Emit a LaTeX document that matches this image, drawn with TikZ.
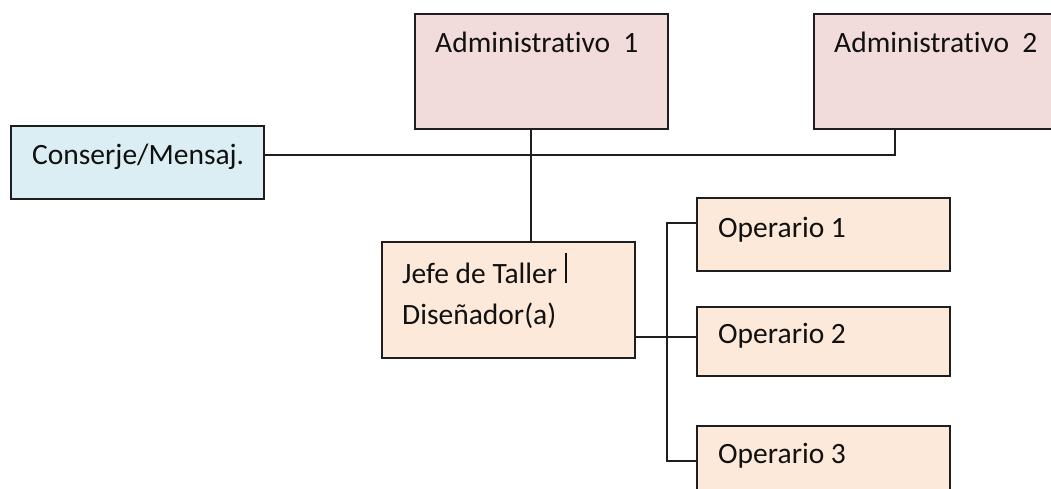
\documentclass[tikz,border=0pt]{standalone}
\usepackage{fontspec}
\setmainfont{Carlito}[Ligatures=NoCommon]
\definecolor{pinkc}{HTML}{F2DCDB}
\definecolor{bluec}{HTML}{DAEEF3}
\definecolor{peachc}{HTML}{FDE9D9}
\definecolor{txtc}{HTML}{111111}
\definecolor{linec}{HTML}{1E1E1E}
\begin{document}
\begin{tikzpicture}[x=1pt,y=-1pt,
  box/.style={draw=linec,line width=1.6pt,rectangle,inner sep=0pt,anchor=north west},
  lbl/.style={anchor=base west,inner sep=0pt,text=txtc,font=\fontsize{29.5}{35}\selectfont},
  conn/.style={draw=linec,line width=1.6pt}]
\useasboundingbox (0,0) rectangle (1051,489);
\clip (0,0) rectangle (1051,489);
% boxes
\node[box,fill=pinkc,minimum width=253pt,minimum height=115pt] (a1) at (414,13) {};
\node[box,fill=pinkc,minimum width=260pt,minimum height=115pt] (a2) at (813,13) {};
\node[box,fill=bluec,minimum width=253pt,minimum height=73pt] (cons) at (10,125) {};
\node[box,fill=peachc,minimum width=253pt,minimum height=116pt] (jefe) at (381,241) {};
\node[box,fill=peachc,minimum width=253pt,minimum height=73pt] (o1) at (696,197) {};
\node[box,fill=peachc,minimum width=253pt,minimum height=69pt] (o2) at (696,306) {};
\node[box,fill=peachc,minimum width=253pt,minimum height=80pt] (o3) at (696,425) {};
% labels
\node[lbl] (a1t) at (435,53) {Administrativo\hspace{0.45em}1};
\node[lbl] (a2t) at (834,53) {Administrativo\hspace{0.45em}2};
\node[lbl] (const) at (32,165) {Conserje/Mensaj.};
\node[lbl] (jefet1) at (402,283) {Jefe de Taller};
\node[lbl] (jefet2) at (402,324) {Diseñador(a)};
\node[lbl] (o1t) at (718,237) {Operario 1};
\node[lbl] (o2t) at (718,343) {Operario 2};
\node[lbl] (o3t) at (718,463) {Operario 3};
% text cursor
\draw[draw=txtc,line width=1.3pt] (566,253) -- (566,283);
% connectors
\coordinate (v1) at (531,0);
\coordinate (v2) at (895,155);
\coordinate (b1) at (667,223);
\coordinate (b2) at (667,337);
\coordinate (b3) at (667,461);
\draw[conn] (a1.south -| v1) -- (jefe.north -| v1);
\draw[conn] (a2.south -| v2) -- (v2) -- (cons.east |- v2);
\draw[conn] (o1.west |- b1) -- (b1) -- (b3) -- (o3.west |- b3);
\draw[conn] (jefe.east |- b2) -- (o2.west |- b2);
\end{tikzpicture}
\end{document}
